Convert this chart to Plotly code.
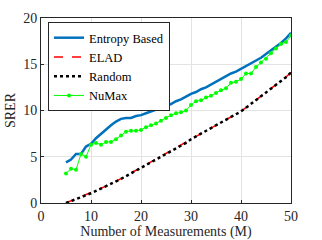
import plotly.graph_objects as go

M = list(range(5, 51))

entropy = [4.4, 4.7, 5.3, 5.3, 6.1, 6.4, 7.0, 7.5, 8.0, 8.4,
           8.8, 9.1, 9.2, 9.2, 9.4, 9.5, 9.7, 9.9, 10.1, 10.3,
           10.5, 10.7, 11.0, 11.2, 11.5, 11.8, 12.0, 12.3, 12.5, 12.8,
           13.1, 13.4, 13.7, 14.0, 14.2, 14.5, 14.8, 15.1, 15.4, 15.7,
           16.1, 16.5, 16.9, 17.3, 17.8, 18.4]

elad = [0.0, 0.22, 0.47, 0.67, 0.88, 1.08, 1.32, 1.57, 1.82, 2.08,
        2.33, 2.63, 2.93, 3.23, 3.53, 3.87, 4.13, 4.43, 4.73, 5.03,
        5.33, 5.63, 5.93, 6.23, 6.53, 6.92, 7.22, 7.52, 7.82, 8.12,
        8.42, 8.72, 9.02, 9.32, 9.62, 9.92, 10.32, 10.72, 11.12, 11.52,
        11.92, 12.32, 12.72, 13.12, 13.62, 14.12]

random_ = [0.0, 0.2, 0.45, 0.65, 0.85, 1.05, 1.3, 1.55, 1.8, 2.05,
           2.3, 2.6, 2.9, 3.2, 3.5, 3.85, 4.1, 4.4, 4.7, 5.0,
           5.3, 5.6, 5.9, 6.2, 6.5, 6.9, 7.2, 7.5, 7.8, 8.1,
           8.4, 8.7, 9.0, 9.3, 9.6, 9.9, 10.3, 10.7, 11.1, 11.5,
           11.9, 12.3, 12.7, 13.1, 13.6, 14.1]

numax = [3.2, 3.7, 3.6, 5.3, 5.0, 6.3, 6.5, 6.3, 6.6, 6.6,
         6.9, 7.3, 7.7, 7.8, 7.8, 7.9, 8.2, 8.4, 8.6, 8.9,
         9.2, 9.5, 9.7, 9.8, 10.0, 10.6, 11.0, 11.1, 11.4, 11.6,
         11.9, 12.2, 12.4, 13.0, 13.1, 13.4, 14.0, 14.0, 14.7, 15.2,
         15.6, 16.2, 16.7, 17.2, 17.4, 18.1]

x_ticks = [0, 10, 20, 30, 40, 50]
y_ticks = [0, 5, 10, 15, 20]

serif = "'Liberation Serif', 'Times New Roman', Times, serif"

fig = go.Figure()
fig.add_trace(go.Scatter(x=M, y=entropy, mode="lines", name="Entropy Based",
                         line=dict(color="#0072BD", width=2.5)))
fig.add_trace(go.Scatter(x=M, y=elad, mode="lines", name="ELAD",
                         line=dict(color="#FF0000", width=1.5, dash="dash")))
fig.add_trace(go.Scatter(x=M, y=random_, mode="lines", name="Random",
                         line=dict(color="#000000", width=2.5, dash="dot")))
fig.add_trace(go.Scatter(x=M, y=numax, mode="lines+markers", name="NuMax",
                         line=dict(color="#00FF00", width=1),
                         marker=dict(color="#00FF00", size=4, symbol="circle")))

axis_common = dict(
    showgrid=True, gridcolor="#e3e3e3", gridwidth=1,
    showline=True, linecolor="#262626", linewidth=1, mirror=True,
    ticks="inside", ticklen=3, tickcolor="#262626",
    zeroline=False, automargin=False,
    tickfont=dict(family=serif, size=14, color="#262626"),
)

fig.update_layout(
    width=322, height=240,
    margin=dict(l=41, r=31, t=18, b=37),
    paper_bgcolor="white", plot_bgcolor="white",
    font=dict(family=serif, size=14, color="#262626"),
    xaxis=dict(range=[0, 50], tickvals=x_ticks,
               title=dict(text="Number of Measurements (M)", standoff=2,
                          font=dict(family=serif, size=14)),
               **axis_common),
    yaxis=dict(range=[0, 20], tickvals=y_ticks,
               title=dict(text="SRER", standoff=4,
                          font=dict(family=serif, size=14)),
               **axis_common),
    legend=dict(x=0.028, y=0.978, xanchor="left", yanchor="top",
                bgcolor="white", bordercolor="#262626", borderwidth=1,
                font=dict(family=serif, size=12.5, color="#000000"),
                itemwidth=30, tracegroupgap=0),
    showlegend=True,
)

fig.write_html("out.html",
               config={"displayModeBar": False},
               post_script="document.body.style.margin='0';document.body.style.padding='0';")
